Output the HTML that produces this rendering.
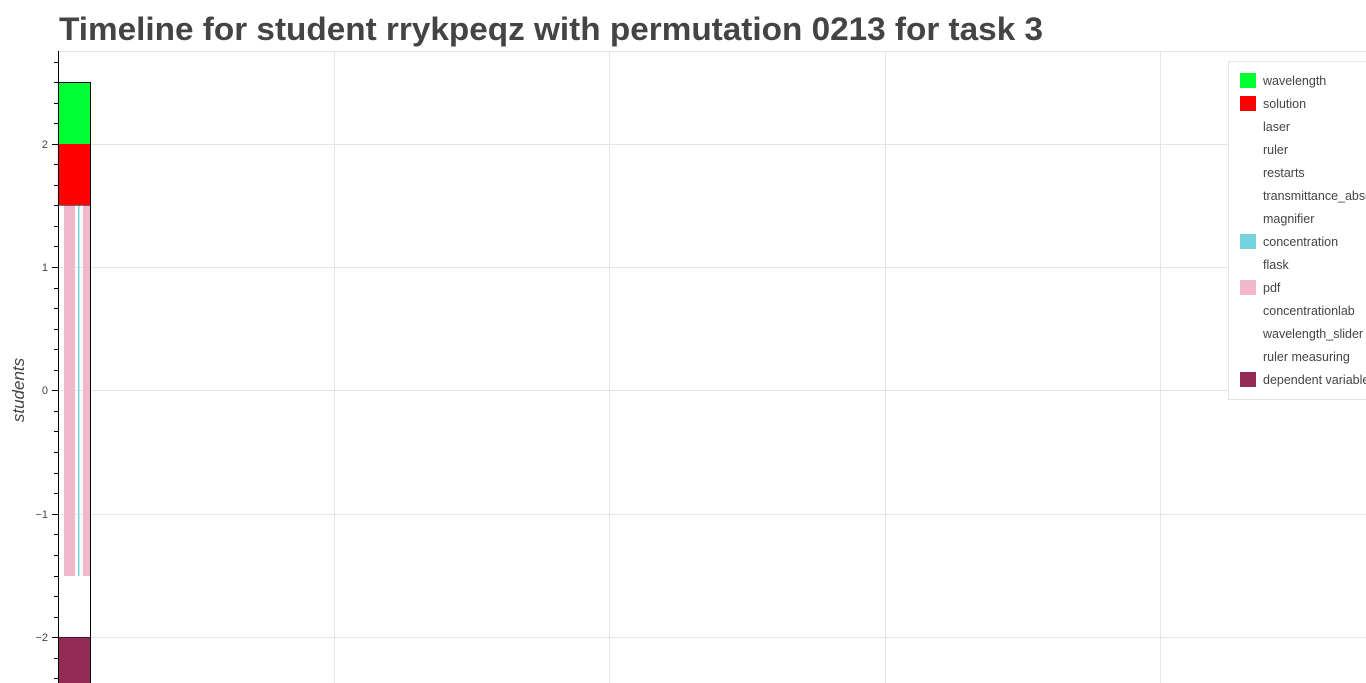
<!DOCTYPE html>
<html><head><meta charset="utf-8"><style>
html,body{margin:0;padding:0;background:#fff;width:1366px;height:683px;overflow:hidden}
svg{display:block;font-family:"Liberation Sans",Helvetica,Arial,sans-serif}
</style></head><body>
<svg width="1366" height="683" viewBox="0 0 1366 683">
<text x="59" y="40" font-size="32" font-weight="bold" fill="#444" textLength="984" lengthAdjust="spacingAndGlyphs">Timeline for student rrykpeqz with permutation 0213 for task 3</text>
<g stroke="#e5e5e5" stroke-width="1">
<line x1="58" y1="51.5" x2="1366" y2="51.5"/>
<line x1="334.5" y1="51" x2="334.5" y2="683"/>
<line x1="609.5" y1="51" x2="609.5" y2="683"/>
<line x1="885.5" y1="51" x2="885.5" y2="683"/>
<line x1="1160.5" y1="51" x2="1160.5" y2="683"/>
<line x1="58" y1="144.5" x2="1366" y2="144.5"/>
<line x1="58" y1="267.5" x2="1366" y2="267.5"/>
<line x1="58" y1="390.5" x2="1366" y2="390.5"/>
<line x1="58" y1="514.5" x2="1366" y2="514.5"/>
<line x1="58" y1="637.5" x2="1366" y2="637.5"/>
</g>
<rect x="58" y="82" width="32" height="62" fill="#00ff33"/>
<rect x="58" y="144" width="32" height="61" fill="#ff0000"/>
<rect x="64" y="205" width="11" height="371" fill="#f0b8ca"/>
<rect x="83" y="205" width="7" height="371" fill="#f0b8ca"/>
<rect x="78" y="205" width="1.5" height="371" fill="#75d3e0"/>
<rect x="58" y="637" width="32" height="46" fill="#922b55"/>
<path d="M58.5 82.5 H90.5 V683" fill="none" stroke="#000" stroke-width="1"/>
<line x1="58" y1="205.5" x2="90" y2="205.5" stroke="#000" stroke-width="0.6"/>
<line x1="58" y1="637.5" x2="90" y2="637.5" stroke="#000" stroke-width="0.6"/>
<line x1="58.5" y1="51" x2="58.5" y2="683" stroke="#000" stroke-width="1"/>
<g stroke="#000" stroke-width="1">
<line x1="52" y1="144.5" x2="58" y2="144.5"/>
<line x1="52" y1="267.5" x2="58" y2="267.5"/>
<line x1="52" y1="390.5" x2="58" y2="390.5"/>
<line x1="52" y1="514.5" x2="58" y2="514.5"/>
<line x1="52" y1="637.5" x2="58" y2="637.5"/>
<line x1="54" y1="62.5" x2="58" y2="62.5"/>
<line x1="54" y1="82.5" x2="58" y2="82.5"/>
<line x1="54" y1="103.5" x2="58" y2="103.5"/>
<line x1="54" y1="123.5" x2="58" y2="123.5"/>
<line x1="54" y1="164.5" x2="58" y2="164.5"/>
<line x1="54" y1="185.5" x2="58" y2="185.5"/>
<line x1="54" y1="205.5" x2="58" y2="205.5"/>
<line x1="54" y1="226.5" x2="58" y2="226.5"/>
<line x1="54" y1="246.5" x2="58" y2="246.5"/>
<line x1="54" y1="288.5" x2="58" y2="288.5"/>
<line x1="54" y1="308.5" x2="58" y2="308.5"/>
<line x1="54" y1="329.5" x2="58" y2="329.5"/>
<line x1="54" y1="349.5" x2="58" y2="349.5"/>
<line x1="54" y1="370.5" x2="58" y2="370.5"/>
<line x1="54" y1="411.5" x2="58" y2="411.5"/>
<line x1="54" y1="431.5" x2="58" y2="431.5"/>
<line x1="54" y1="452.5" x2="58" y2="452.5"/>
<line x1="54" y1="473.5" x2="58" y2="473.5"/>
<line x1="54" y1="493.5" x2="58" y2="493.5"/>
<line x1="54" y1="534.5" x2="58" y2="534.5"/>
<line x1="54" y1="555.5" x2="58" y2="555.5"/>
<line x1="54" y1="576.5" x2="58" y2="576.5"/>
<line x1="54" y1="596.5" x2="58" y2="596.5"/>
<line x1="54" y1="617.5" x2="58" y2="617.5"/>
<line x1="54" y1="658.5" x2="58" y2="658.5"/>
<line x1="54" y1="678.5" x2="58" y2="678.5"/>
</g>
<g font-size="11" fill="#444" text-anchor="end">
<text x="48" y="148">2</text>
<text x="48" y="271">1</text>
<text x="48" y="394">0</text>
<text x="48" y="518">−1</text>
<text x="48" y="641">−2</text>
</g>
<text transform="translate(24,390) rotate(-90)" font-size="17" font-style="italic" fill="#444" text-anchor="middle">students</text>
<rect x="1228.5" y="61.5" width="140" height="338" fill="#fff" stroke="#e5e5e5"/>
<rect x="1240" y="73" width="16" height="15" fill="#00ff33"/>
<rect x="1240" y="96" width="16" height="15" fill="#ff0000"/>
<rect x="1240" y="234" width="16" height="15" fill="#75d3e0"/>
<rect x="1240" y="280" width="16" height="15" fill="#f0b8ca"/>
<rect x="1240" y="372" width="16" height="15" fill="#922b55"/>
<g font-size="12.5" fill="#444">
<text x="1263" y="85">wavelength</text>
<text x="1263" y="108">solution</text>
<text x="1263" y="131">laser</text>
<text x="1263" y="154">ruler</text>
<text x="1263" y="177">restarts</text>
<text x="1263" y="200">transmittance_absorbance</text>
<text x="1263" y="223">magnifier</text>
<text x="1263" y="246">concentration</text>
<text x="1263" y="269">flask</text>
<text x="1263" y="292">pdf</text>
<text x="1263" y="315">concentrationlab</text>
<text x="1263" y="338">wavelength_slider</text>
<text x="1263" y="361">ruler measuring</text>
<text x="1263" y="384">dependent variable</text>
</g>
</svg>
</body></html>
